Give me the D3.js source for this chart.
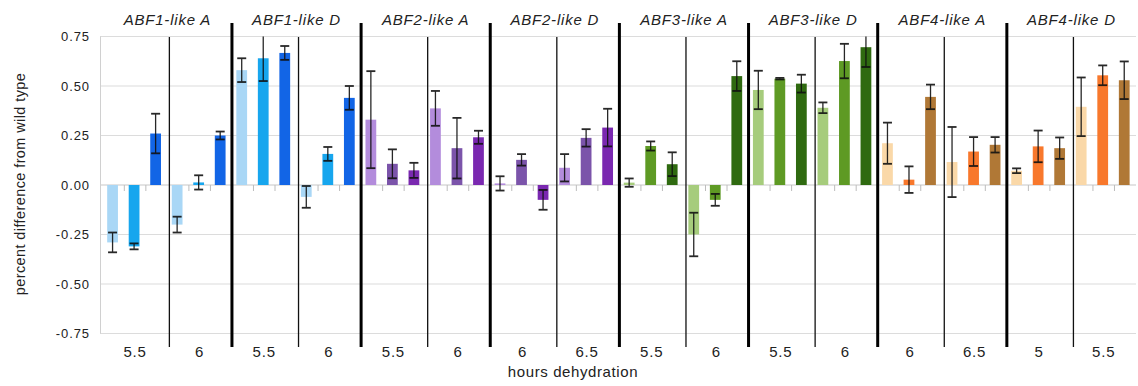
<!DOCTYPE html>
<html><head><meta charset="utf-8">
<script src="https://cdn.jsdelivr.net/npm/d3@7"></script>
<style>
body{margin:0;background:#fff;}
text{font-family:"Liberation Sans",Arial,Helvetica,sans-serif;fill:#222;}
</style></head>
<body><svg id="c" width="1138" height="386"></svg>
<script>
const panels = ["ABF1-like A","ABF1-like D","ABF2-like A","ABF2-like D","ABF3-like A","ABF3-like D","ABF4-like A","ABF4-like D"];
const subLabels = [["5.5","6"],["5.5","6"],["5.5","6"],["6","6.5"],["5.5","6"],["5.5","6"],["6","6.5"],["5","5.5"]];
// mean values, 6 per panel (sub1: bar1..3, sub2: bar1..3)
const means = [
  [-0.29,-0.31,0.26, -0.20,0.013,0.25],
  [0.58,0.64,0.667, -0.06,0.157,0.44],
  [0.33,0.107,0.074, 0.387,0.186,0.241],
  [0.008,0.127,-0.075, 0.087,0.238,0.29],
  [0.012,0.197,0.105, -0.25,-0.075,0.55],
  [0.48,0.537,0.512, 0.39,0.626,0.696],
  [0.211,0.027,0.445, 0.116,0.169,0.203],
  [0.072,0.195,0.186, 0.395,0.554,0.529]
];
const errors = [
  [0.05,0.015,0.10, 0.04,0.036,0.02],
  [0.06,0.115,0.035, 0.055,0.035,0.06],
  [0.245,0.073,0.038, 0.088,0.153,0.033],
  [0.036,0.029,0.05, 0.069,0.044,0.095],
  [0.021,0.023,0.06, 0.11,0.03,0.075],
  [0.097,0.004,0.045, 0.027,0.087,0.10],
  [0.104,0.067,0.062, 0.177,0.073,0.039],
  [0.012,0.08,0.054, 0.148,0.05,0.095]
];
const palettes = [
  ["#a9d7f6","#17a6ee","#1265e6"],
  ["#a9d7f6","#17a6ee","#1265e6"],
  ["#b38cdc","#7b54aa","#7a28b0"],
  ["#b38cdc","#7b54aa","#7a28b0"],
  ["#a6cc7c","#5e9a24","#2f6a10"],
  ["#a6cc7c","#5e9a24","#2f6a10"],
  ["#fad8a8","#f8782c","#b07836"],
  ["#fad8a8","#f8782c","#b07836"]
];
const yTicks = [0.75,0.5,0.25,0,-0.25,-0.5,-0.75];
const yTickLabels = ["0.75","0.50","0.25","0.00","-0.25","-0.50","-0.75"];

const svg = d3.select("#c");
const x0 = 102.8, x1 = 1136;
const y = d3.scaleLinear().domain([-0.75,0.75]).range([333.5,36.5]);

// flat list of bars
const bars = [];
panels.forEach((p,pi)=>{
  for(let s=0;s<2;s++) for(let b=0;b<3;b++){
    bars.push({id:`${pi}-${s}-${b}`, p:pi, s, b, v:means[pi][s*3+b], e:errors[pi][s*3+b], c:palettes[pi][b]});
  }
});
const xBar = d3.scaleBand().domain(bars.map(d=>d.id)).range([x0,x1]).paddingInner(0.5).paddingOuter(0.25).align(0.5);
const xSub = d3.scaleBand().domain(d3.range(16)).range([x0,x1]);
const xPanel = d3.scaleBand().domain(d3.range(8)).range([x0,x1]);
const slot = (x1-x0)/48;

// grid
svg.append("g").selectAll("line").data(yTicks).join("line")
  .attr("x1",100).attr("x2",x1).attr("y1",d=>y(d)).attr("y2",d=>y(d))
  .attr("stroke",d=>d===0?"#c8c8c8":"#dcdcdc").attr("stroke-width",1.2);
svg.append("line").attr("x1",100.5).attr("x2",100.5).attr("y1",y(0.75)).attr("y2",y(-0.75)).attr("stroke","#d0d0d0");
// zero-line ticks at slot boundaries
svg.append("g").selectAll("line").data(d3.range(1,48).filter(i=>i%3!==0)).join("line")
  .attr("x1",i=>x0+i*slot).attr("x2",i=>x0+i*slot).attr("y1",y(0)).attr("y2",y(0)+6)
  .attr("stroke","#bdbdbd").attr("stroke-width",1);

// y tick labels
svg.append("g").selectAll("text").data(yTicks).join("text")
  .attr("x",90).attr("y",d=>y(d)+4.5).attr("text-anchor","end")
  .attr("font-size",13).attr("letter-spacing",0.9)
  .text((d,i)=>yTickLabels[i]);

// bars
svg.append("g").selectAll("rect").data(bars).join("rect")
  .attr("x",d=>xBar(d.id)-1).attr("width",xBar.bandwidth())
  .attr("y",d=>y(Math.max(0,d.v))).attr("height",d=>Math.abs(y(d.v)-y(0)))
  .attr("fill",d=>d.c);

// error bars
const clip = v=>Math.max(-0.75,Math.min(0.75,v));
const eg = svg.append("g").attr("stroke","#111").attr("stroke-width",1.3).attr("opacity",0.9);
bars.forEach(d=>{
  const cx = xBar(d.id)-1+xBar.bandwidth()/2;
  const hi = clip(d.v+d.e), lo = clip(d.v-d.e);
  eg.append("line").attr("x1",cx).attr("x2",cx).attr("y1",y(hi)).attr("y2",y(lo));
  if(d.v+d.e<=0.75) eg.append("line").attr("x1",cx-4.5).attr("x2",cx+4.5).attr("y1",y(hi)).attr("y2",y(hi)).attr("stroke-width",1.8);
  eg.append("line").attr("x1",cx-4.5).attr("x2",cx+4.5).attr("y1",y(lo)).attr("y2",y(lo)).attr("stroke-width",1.8);
});

// separator lines
svg.append("g").selectAll("line").data(d3.range(1,8)).join("line")
  .attr("x1",i=>xPanel(i)).attr("x2",i=>xPanel(i)).attr("y1",23).attr("y2",347)
  .attr("stroke","#000").attr("stroke-width",3);
svg.append("g").selectAll("line").data(d3.range(8)).join("line")
  .attr("x1",i=>xSub(2*i+1)+2).attr("x2",i=>xSub(2*i+1)+2).attr("y1",37).attr("y2",347)
  .attr("stroke","#111").attr("stroke-width",1.3);

// panel titles
svg.append("g").selectAll("text").data(panels).join("text")
  .attr("x",(d,i)=>xPanel(i)+xPanel.bandwidth()/2).attr("y",25)
  .attr("text-anchor","middle").attr("font-size",15).attr("font-style","italic")
  .attr("letter-spacing",0.8).text(d=>d);

// sub labels
const subs = [];
subLabels.forEach((a,pi)=>a.forEach((t,s)=>subs.push({i:pi*2+s,t})));
svg.append("g").selectAll("text").data(subs).join("text")
  .attr("x",d=>xSub(d.i)+xSub.bandwidth()/2).attr("y",357)
  .attr("text-anchor","middle").attr("font-size",15).attr("letter-spacing",0.8)
  .text(d=>d.t);

// axis titles
svg.append("text").attr("x",573).attr("y",377).attr("text-anchor","middle")
  .attr("font-size",15).attr("letter-spacing",0.6).text("hours dehydration");
svg.append("text").attr("transform","translate(25,184) rotate(-90)").attr("text-anchor","middle")
  .attr("font-size",14.5).attr("letter-spacing",0.4).text("percent difference from wild type");
</script></body></html>
